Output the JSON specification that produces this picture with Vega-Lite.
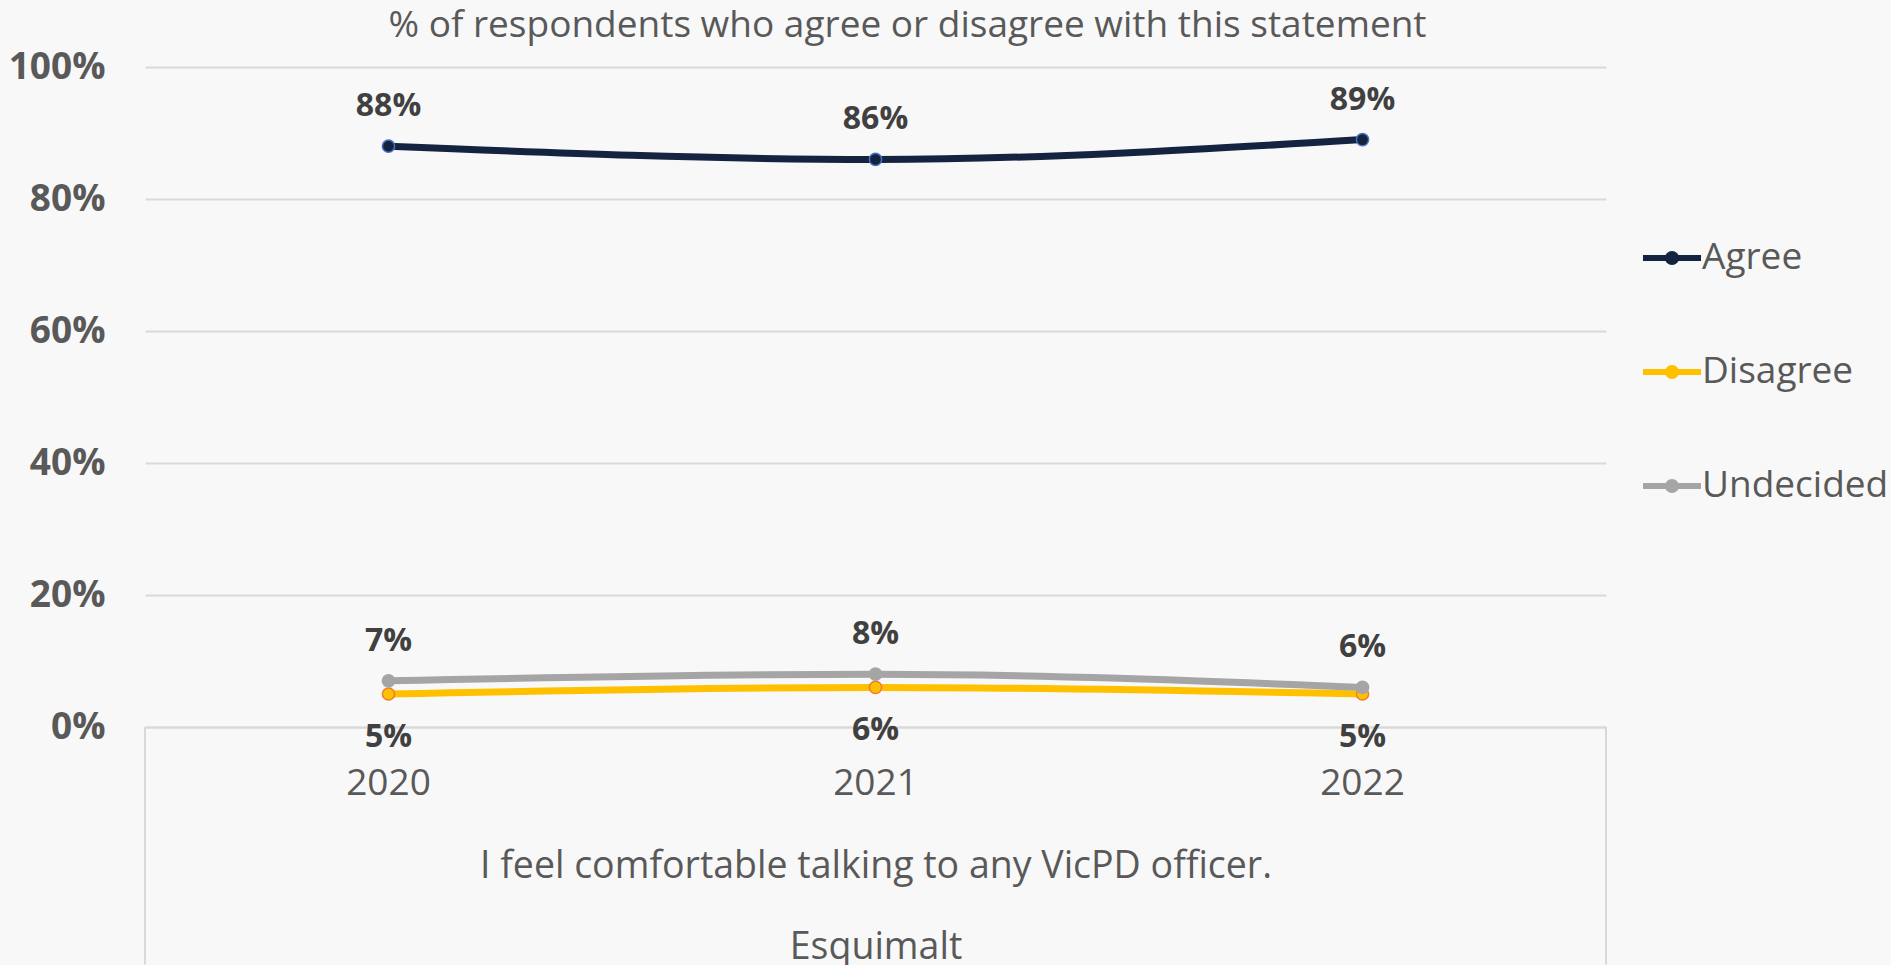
{
  "$schema": "https://vega.github.io/schema/vega-lite/v6.json",
  "width": 1461,
  "height": 660,
  "autosize": {"type": "none"},
  "padding": {"left": 145, "top": 67, "right": 285, "bottom": 238},
  "background": "#F8F8F8",
  "config": {"font": "Open Sans", "view": {"stroke": null}},
  "title": {
    "text": "% of respondents who agree or disagree with this statement",
    "fontSize": 37,
    "fontWeight": "normal",
    "color": "#595959",
    "anchor": "middle",
    "dx": 32,
    "offset": 3
  },
  "data": {
    "values": [
      {"year": "2020", "series": "Agree", "value": 0.88},
      {"year": "2021", "series": "Agree", "value": 0.86},
      {"year": "2022", "series": "Agree", "value": 0.89},
      {"year": "2020", "series": "Disagree", "value": 0.05},
      {"year": "2021", "series": "Disagree", "value": 0.06},
      {"year": "2022", "series": "Disagree", "value": 0.05},
      {"year": "2020", "series": "Undecided", "value": 0.07},
      {"year": "2021", "series": "Undecided", "value": 0.08},
      {"year": "2022", "series": "Undecided", "value": 0.06}
    ]
  },
  "layer": [
    {
      "mark": {"type": "line", "interpolate": "monotone", "strokeWidth": 7, "strokeCap": "round"},
      "encoding": {
        "x": {
          "field": "year", "type": "ordinal",
          "scale": {"paddingInner": 0, "paddingOuter": 0},
          "axis": {
            "labelAngle": 0, "labelFontSize": 37, "labelColor": "#595959", "labelPadding": 38,
            "ticks": false, "domainColor": "#D9D9D9", "domainWidth": 2, "grid": false,
            "title": ["I feel comfortable talking to any VicPD officer.", "Esquimalt"],
            "titleFontSize": 37.5, "titleFontWeight": "normal", "titleColor": "#595959",
            "titleLineHeight": 81, "titlePadding": 46
          }
        },
        "y": {
          "field": "value", "type": "quantitative",
          "scale": {"domain": [0, 1]},
          "axis": {
            "format": ".0%", "values": [0, 0.2, 0.4, 0.6, 0.8, 1],
            "labelFontSize": 37, "labelFontWeight": "bold", "labelColor": "#595959",
            "labelPadding": 40, "ticks": false, "domain": false,
            "gridColor": "#D9D9D9", "gridWidth": 2, "title": null
          }
        },
        "color": {
          "field": "series", "type": "nominal",
          "scale": {"domain": ["Agree", "Disagree", "Undecided"], "range": ["#14233F", "#FFC000", "#A5A5A5"]},
          "legend": {
            "orient": "none", "legendX": 1495, "legendY": 159, "title": null,
            "symbolType": "M-1,0H1M0.14,0A0.14,0.14,0,1,1,-0.14,0A0.14,0.14,0,1,1,0.14,0Z",
            "symbolSize": 3364, "symbolStrokeWidth": 6,
            "labelFontSize": 37, "labelColor": "#595959", "labelOffset": -2, "rowPadding": 64,
            "labelLimit": 400,
            "encode": {"symbols": {"update": {"fill": {"scale": "color", "field": "value"}}}}
          }
        }
      }
    },
    {
      "mark": {"type": "point", "filled": true, "size": 150, "strokeWidth": 1.5, "opacity": 1},
      "encoding": {
        "x": {"field": "year", "type": "ordinal"},
        "y": {"field": "value", "type": "quantitative"},
        "fill": {
          "field": "series", "type": "nominal",
          "scale": {"domain": ["Agree", "Disagree", "Undecided"], "range": ["#14233F", "#FFC000", "#A5A5A5"]},
          "legend": null
        },
        "stroke": {
          "field": "series", "type": "nominal",
          "scale": {"domain": ["Agree", "Disagree", "Undecided"], "range": ["#4472C4", "#ED7D31", "#A5A5A5"]},
          "legend": null
        }
      }
    },
    {
      "transform": [{"filter": "datum.series !== 'Disagree'"}],
      "mark": {"type": "text", "fontSize": 32, "fontWeight": "bold", "color": "#404040", "dy": -40},
      "encoding": {
        "x": {"field": "year", "type": "ordinal"},
        "y": {"field": "value", "type": "quantitative"},
        "text": {"field": "value", "type": "quantitative", "format": ".0%"}
      }
    },
    {
      "transform": [{"filter": "datum.series === 'Disagree'"}],
      "mark": {"type": "text", "fontSize": 32, "fontWeight": "bold", "color": "#404040", "dy": 43},
      "encoding": {
        "x": {"field": "year", "type": "ordinal"},
        "y": {"field": "value", "type": "quantitative"},
        "text": {"field": "value", "type": "quantitative", "format": ".0%"}
      }
    },
    {
      "transform": [{"filter": "datum.year === '2020' && datum.series === 'Agree'"}],
      "mark": {"type": "rule", "color": "#D9D9D9", "strokeWidth": 2},
      "encoding": {
        "x": {"field": "year", "type": "ordinal", "bandPosition": 0},
        "y": {"datum": 0},
        "y2": {"datum": -0.36}
      }
    },
    {
      "transform": [{"filter": "datum.year === '2022' && datum.series === 'Agree'"}],
      "mark": {"type": "rule", "color": "#D9D9D9", "strokeWidth": 2},
      "encoding": {
        "x": {"field": "year", "type": "ordinal", "bandPosition": 1},
        "y": {"datum": 0},
        "y2": {"datum": -0.36}
      }
    }
  ]
}
